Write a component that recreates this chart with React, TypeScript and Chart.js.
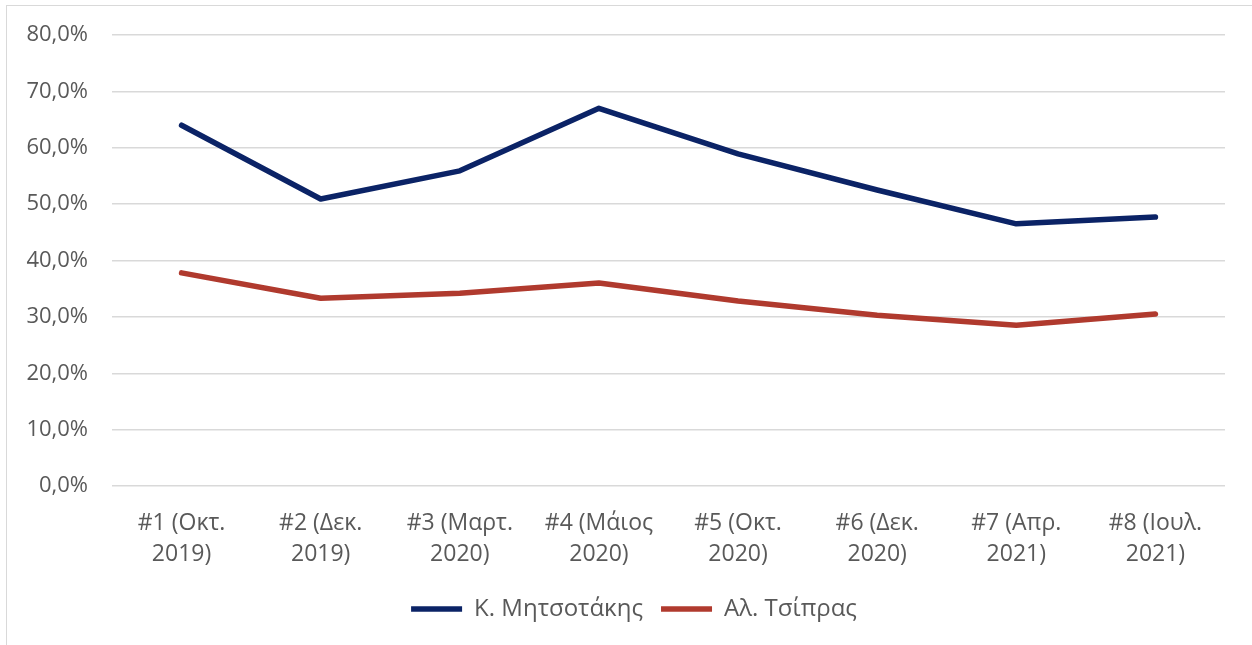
import React, { useEffect, useRef } from "react";
import { Chart, registerables } from "chart.js";

Chart.register(...registerables);

const categories: string[][] = [
  ["#1 (Οκτ.", "2019)"],
  ["#2 (Δεκ.", "2019)"],
  ["#3 (Μαρτ.", "2020)"],
  ["#4 (Μάιος", "2020)"],
  ["#5 (Οκτ.", "2020)"],
  ["#6 (Δεκ.", "2020)"],
  ["#7 (Απρ.", "2021)"],
  ["#8 (Ιουλ.", "2021)"],
];

const mitsotakis: number[] = [64.0, 50.9, 55.9, 67.0, 58.9, 52.5, 46.5, 47.7];
const tsipras: number[] = [37.8, 33.3, 34.2, 36.0, 32.8, 30.3, 28.5, 30.5];

const seriesNames: string[] = ["Κ. Μητσοτάκης", "Αλ. Τσίπρας"];
const yTicks: number[] = [0, 10, 20, 30, 40, 50, 60, 70, 80];

const FONT = "'Open Sans', 'Noto Sans', sans-serif";
const TEXT = "#595959";

const legendShift = {
  id: "legendShift",
  afterLayout(chart: any) {
    const lg = chart.legend;
    if (lg) {
      lg.left += 18;
      lg.right += 18;
    }
  },
};

export default function App() {
  const ref = useRef<HTMLCanvasElement | null>(null);

  useEffect(() => {
    if (!ref.current) return;
    const chart = new Chart(ref.current, {
      type: "line",
      data: {
        labels: categories,
        datasets: [
          {
            label: seriesNames[0],
            data: mitsotakis,
            borderColor: "#0b2366",
            backgroundColor: "#0b2366",
            borderWidth: 5.5,
            pointRadius: 0,
            pointHoverRadius: 0,
            tension: 0,
            borderCapStyle: "round",
            borderJoinStyle: "round",
            pointStyle: "line",
          },
          {
            label: seriesNames[1],
            data: tsipras,
            borderColor: "#b03a2e",
            backgroundColor: "#b03a2e",
            borderWidth: 5.5,
            pointRadius: 0,
            pointHoverRadius: 0,
            tension: 0,
            borderCapStyle: "round",
            borderJoinStyle: "round",
            pointStyle: "line",
          },
        ],
      },
      plugins: [legendShift],
      options: {
        animation: false,
        responsive: false,
        maintainAspectRatio: false,
        layout: { padding: { top: 29, right: 27, bottom: 20, left: 0 } },
        plugins: {
          tooltip: { enabled: false },
          legend: {
            position: "bottom",
            labels: {
              usePointStyle: true,
              pointStyle: "line",
              pointStyleWidth: 51,
              boxHeight: 24,
              padding: 18,
              color: TEXT,
              font: { family: FONT, size: 24 },
            },
          },
        },
        scales: {
          x: {
            offset: true,
            grid: { display: false, drawTicks: false },
            border: { display: false },
            ticks: {
              color: TEXT,
              padding: 22,
              maxRotation: 0,
              autoSkip: false,
              font: { family: FONT, size: 23, lineHeight: 1.35 },
            },
            afterFit: (s: any) => {
              s.height = 93;
            },
          },
          y: {
            min: 0,
            max: 80,
            afterBuildTicks: (s: any) => {
              s.ticks = yTicks.map((v) => ({ value: v }));
            },
            grid: { color: "#d9d9d9", lineWidth: 1.5, drawTicks: false },
            border: { display: false },
            ticks: {
              color: TEXT,
              padding: 24,
              font: { family: FONT, size: 22 },
              callback: (v: any) => Number(v).toFixed(1).replace(".", ",") + "%",
            },
            afterFit: (s: any) => {
              s.width = 105;
              s.paddingTop = 0;
              s.paddingBottom = 0;
            },
          },
        },
      },
    });
    return () => chart.destroy();
  }, []);

  return (
    <div
      style={{
        position: "fixed",
        left: 0,
        top: 0,
        width: 1252,
        height: 645,
        overflow: "hidden",
        background: "#fff",
      }}
    >
      <div
        style={{
          position: "absolute",
          left: 6,
          top: 5,
          width: 1300,
          height: 700,
          border: "1px solid #d9d9d9",
          boxSizing: "border-box",
        }}
      >
        <canvas
          ref={ref}
          width={1245}
          height={645}
          style={{ position: "absolute", left: 0, top: 0, width: 1245, height: 645 }}
        />
      </div>
    </div>
  );
}
